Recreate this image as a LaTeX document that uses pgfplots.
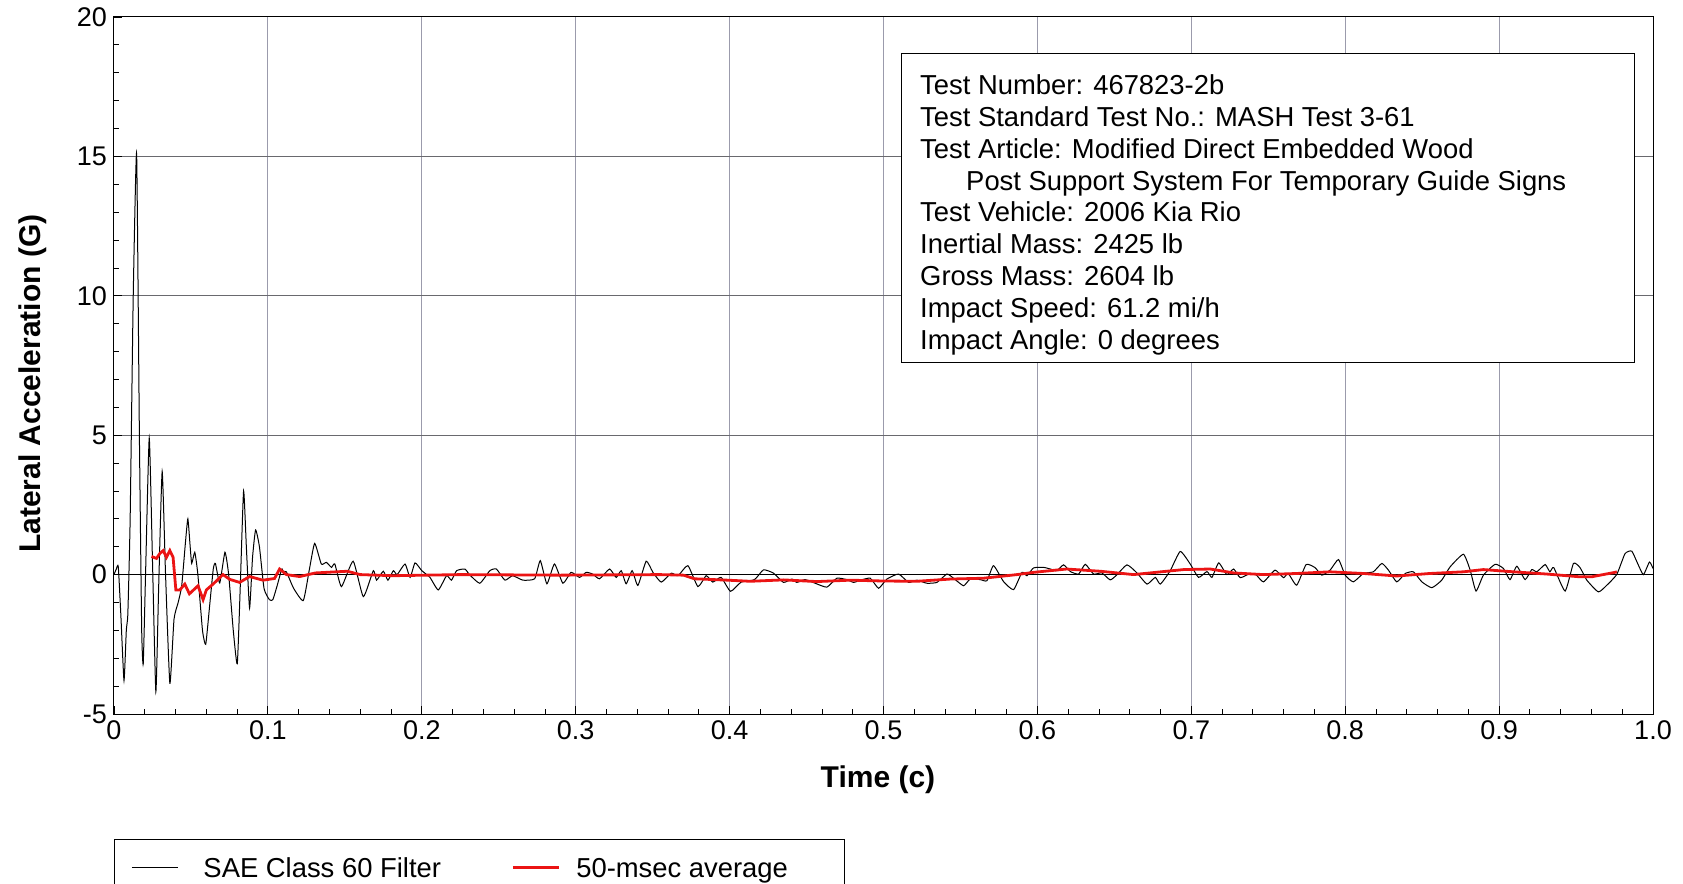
\documentclass[border=0pt]{standalone}
\usepackage{pgfplots}
\pgfplotsset{compat=1.18}
\usepackage{fontspec}
\setmainfont{Liberation Sans}
\definecolor{gridv}{RGB}{155,155,172}
\definecolor{gridh}{RGB}{105,105,110}
\definecolor{avgred}{RGB}{235,20,20}
\begin{document}
\begin{tikzpicture}
\begin{axis}[
  scale only axis,
  width=769.5pt, height=348.5pt,
  xmin=0, xmax=1, ymin=-5, ymax=20,
  xtick={0,0.1,0.2,0.3,0.4,0.5,0.6,0.7,0.8,0.9,1},
  xticklabels={0,0.1,0.2,0.3,0.4,0.5,0.6,0.7,0.8,0.9,1.0},
  ytick={-5,0,5,10,15,20},
  yticklabels={-5,0,5,10,15,20},
  minor x tick num=4, minor y tick num=4,
  tick pos=left, tick align=inside,
  major tick length=4pt, minor tick length=2.5pt,
  every tick/.style={black, line width=0.4pt},
  grid=major,
  x grid style={gridv, line width=0.5pt},
  y grid style={gridh, line width=0.5pt},
  axis line style={black, line width=0.5pt},
  tick label style={font=\fontsize{13.5}{16}\selectfont},
  /pgf/number format/assume math mode=true,
  xlabel={\textbf{Time (c)}},
  ylabel={\textbf{Lateral Acceleration (G)}},
  label style={font=\fontsize{15}{18}\selectfont},
  xlabel style={at={(axis description cs:0.4964,-0.0947)}, anchor=center},
  ylabel style={at={(axis description cs:-0.0525,0.474)}, anchor=center},
  legend columns=2,
  legend style={at={(axis description cs:0,-0.1793)}, anchor=north west,
    draw=black, line width=0.5pt, inner xsep=8.5pt, inner ysep=9pt,
    font=\fontsize{13.7}{16}\selectfont,
    nodes={inner sep=0pt, anchor=base west},
    /tikz/every odd column/.append style={column sep=8pt},
    /tikz/every even column/.append style={column sep=0pt}},
  legend image code/.code={\draw[#1] (0pt,4.8pt) -- (23pt,4.8pt);},
]
\draw[black, line width=0.6pt] (axis cs:0,0) -- (axis cs:1,0);
\addplot[black, line width=0.5pt, smooth, tension=0.3] coordinates {
(0,0.0) (0.0015,0.2) (0.0028,0.28) (0.0045,-1.5) (0.0065,-3.8) (0.0080,-2.0) (0.0090,-1.4)
(0.0105,2.0) (0.0125,10.0) (0.0147,15.1) (0.0165,5.0) (0.0180,-2.0) (0.0190,-3.2) (0.0205,0.0)
(0.0229,4.9) (0.0250,0.5) (0.0272,-4.2) (0.0290,-0.5) (0.0313,3.7) (0.0335,0.0) (0.0363,-3.9)
(0.0390,-1.6) (0.0417,-1.0) (0.0440,-0.4) (0.0465,1.2) (0.0480,2.0) (0.0495,1.0) (0.0505,0.4)
(0.0525,0.8) (0.0545,0.0) (0.0575,-2.0) (0.0596,-2.5) (0.0620,-1.2) (0.0645,0.2) (0.0659,0.4)
(0.0687,-0.3) (0.0721,0.8) (0.0745,0.0) (0.0775,-2.0) (0.0801,-3.2) (0.0820,-0.5) (0.0842,3.0)
(0.0860,1.0) (0.0881,-1.2) (0.0900,0.6) (0.0920,1.6) (0.0945,1.0) (0.0975,-0.5) (0.1010,-0.9)
(0.1032,-0.9) (0.1060,-0.4) (0.1090,0.2) (0.1100,0.1) (0.1120,0.1) (0.1167,-0.49) (0.1230,-0.93)
(0.1270,0.2) (0.1304,1.12) (0.1347,0.38) (0.1380,0.44) (0.1413,0.26) (0.1435,0.38) (0.1478,-0.43)
(0.1554,0.48) (0.1620,-0.79) (0.1685,0.14) (0.1706,-0.2) (0.1750,0.12) (0.1780,-0.2) (0.1815,0.14)
(0.1840,0.0) (0.1891,0.38) (0.1924,-0.1) (0.1956,0.42) (0.2000,0.14) (0.2053,-0.1) (0.2107,-0.55)
(0.2161,-0.04) (0.2193,-0.2) (0.2226,0.14) (0.2280,0.2) (0.2310,0.0) (0.2377,-0.31) (0.2442,0.14)
(0.2485,0.2) (0.2540,-0.2) (0.2590,-0.04) (0.2657,-0.2) (0.2733,-0.15) (0.2770,0.5) (0.2813,-0.33)
(0.2862,0.38) (0.2917,-0.31) (0.2970,0.08) (0.3025,-0.1) (0.3068,0.08) (0.3110,0.02) (0.3155,-0.15)
(0.3220,0.2) (0.3263,-0.1) (0.3296,0.14) (0.3328,-0.33) (0.3367,0.14) (0.3404,-0.39) (0.3458,0.48)
(0.3502,0.08) (0.3556,-0.27) (0.3621,0.05) (0.3665,-0.04) (0.3729,0.32) (0.3794,-0.43) (0.3848,-0.04)
(0.3891,-0.27) (0.3945,-0.1) (0.4006,-0.6) (0.4075,-0.27) (0.4162,-0.18) (0.4220,0.17) (0.4286,0.05)
(0.4350,-0.28) (0.4405,-0.16) (0.4437,-0.28) (0.4490,-0.18) (0.4556,-0.31) (0.4632,-0.45) (0.4697,-0.13)
(0.4762,-0.18) (0.4806,-0.28) (0.4850,-0.2) (0.4914,-0.13) (0.4968,-0.49) (0.5022,-0.16) (0.5098,0.02)
(0.5163,-0.28) (0.5217,-0.2) (0.5282,-0.31) (0.5347,-0.28) (0.5412,0.02) (0.5455,-0.13) (0.5520,-0.4)
(0.5563,-0.16) (0.5629,-0.18) (0.5672,-0.22) (0.5715,0.32) (0.5780,-0.25) (0.5845,-0.54) (0.5900,0.08)
(0.5932,-0.04) (0.5975,0.24) (0.6040,0.26) (0.6084,0.2) (0.6127,0.14) (0.6170,0.35) (0.6214,0.11)
(0.6268,0.02) (0.6311,0.37) (0.6365,0.02) (0.6419,0.06) (0.6473,-0.19) (0.6516,-0.01) (0.6582,0.35)
(0.6647,0.06) (0.6712,-0.34) (0.6766,-0.1) (0.6799,-0.34) (0.6863,0.14) (0.6928,0.83) (0.6993,0.38)
(0.7047,-0.1) (0.7102,0.11) (0.7134,-0.1) (0.7178,0.42) (0.7231,0.0) (0.7275,0.2) (0.7318,-0.11)
(0.7382,0.04) (0.7420,0.0) (0.7469,-0.26) (0.7544,0.16) (0.7599,-0.11) (0.7630,0.04) (0.7685,-0.38)
(0.7746,0.36) (0.7804,0.25) (0.7848,-0.02) (0.7902,0.16) (0.7956,0.54) (0.8000,-0.02) (0.8053,-0.26)
(0.8118,0.04) (0.8183,0.1) (0.8238,0.4) (0.8281,0.16) (0.8335,-0.26) (0.8390,0.04) (0.8443,0.1)
(0.8498,-0.26) (0.8563,-0.47) (0.8627,-0.2) (0.8682,0.28) (0.8768,0.73) (0.8812,0.16) (0.8850,-0.59)
(0.8898,-0.02) (0.8974,0.37) (0.9028,0.22) (0.9071,-0.18) (0.9115,0.3) (0.9169,-0.18) (0.9212,0.18)
(0.9245,0.1) (0.9299,0.36) (0.9330,0.1) (0.9355,0.25) (0.9429,-0.59) (0.9483,0.4) (0.9526,0.25)
(0.9570,-0.2) (0.9645,-0.62) (0.9700,-0.38) (0.9765,0.01) (0.9818,0.75) (0.9862,0.84) (0.9905,0.34)
(0.9938,0.0) (0.9977,0.45) (1.0000,0.22)
};
\addlegendentry{\makebox[158.5pt][l]{\hspace*{4.5pt}SAE Class 60 Filter}}
\addplot[avgred, line width=1.4pt] coordinates {
(0.0244,0.65) (0.0276,0.58) (0.0298,0.76) (0.0320,0.86) (0.0341,0.62) (0.0363,0.86) (0.0384,0.62)
(0.0402,-0.55) (0.0428,-0.55) (0.0460,-0.34) (0.0490,-0.69) (0.0546,-0.40) (0.0579,-0.90) (0.0600,-0.55)
(0.0644,-0.34) (0.0708,0.0) (0.0752,-0.17) (0.0816,-0.28) (0.0881,-0.07) (0.0968,-0.20) (0.1043,-0.14)
(0.1076,0.20) (0.1120,0.0) (0.1206,-0.07) (0.1310,0.06) (0.1515,0.12) (0.1600,0.0) (0.1815,-0.04)
(0.2247,0.0) (0.2897,-0.02) (0.3545,0.0) (0.3700,-0.02) (0.3772,-0.15) (0.3988,-0.20) (0.4134,-0.24)
(0.4350,-0.19) (0.4567,-0.25) (0.4784,-0.20) (0.5000,-0.23) (0.5217,-0.24) (0.5434,-0.16) (0.5650,-0.13)
(0.5867,0.0) (0.5975,0.08) (0.6190,0.20) (0.6410,0.12) (0.6625,0.0) (0.6840,0.12) (0.6950,0.18)
(0.7123,0.20) (0.7275,0.06) (0.7469,0.0) (0.7685,0.04) (0.7900,0.10) (0.8118,0.04) (0.8335,-0.05)
(0.8550,0.04) (0.8768,0.10) (0.8898,0.18) (0.9093,0.10) (0.9309,0.02) (0.9527,-0.08) (0.9600,-0.08)
(0.9743,0.07) (0.9765,0.10)
};
\addlegendentry{\makebox[125.5pt][l]{50-msec average}}
\draw[black, line width=0.6pt, fill=white] (rel axis cs:0.5118,0.5039) rectangle (rel axis cs:0.9881,0.9475);
\node[anchor=north west, inner sep=0pt, align=left, font=\fontsize{13.7}{15.9}\selectfont]
  at (rel axis cs:0.5236,0.9176) {Test Number: 467823-2b\\
Test Standard Test No.: MASH Test 3-61\\
Test Article: Modified Direct Embedded Wood\\
\hspace*{23pt}Post Support System For Temporary Guide Signs\\
Test Vehicle: 2006 Kia Rio\\
Inertial Mass: 2425 lb\\
Gross Mass: 2604 lb\\
Impact Speed: 61.2 mi/h\\
Impact Angle: 0 degrees};
\end{axis}
\pgfresetboundingbox
\useasboundingbox (-57pt,-85pt) rectangle (784.5pt,357pt);
\end{tikzpicture}
\end{document}
